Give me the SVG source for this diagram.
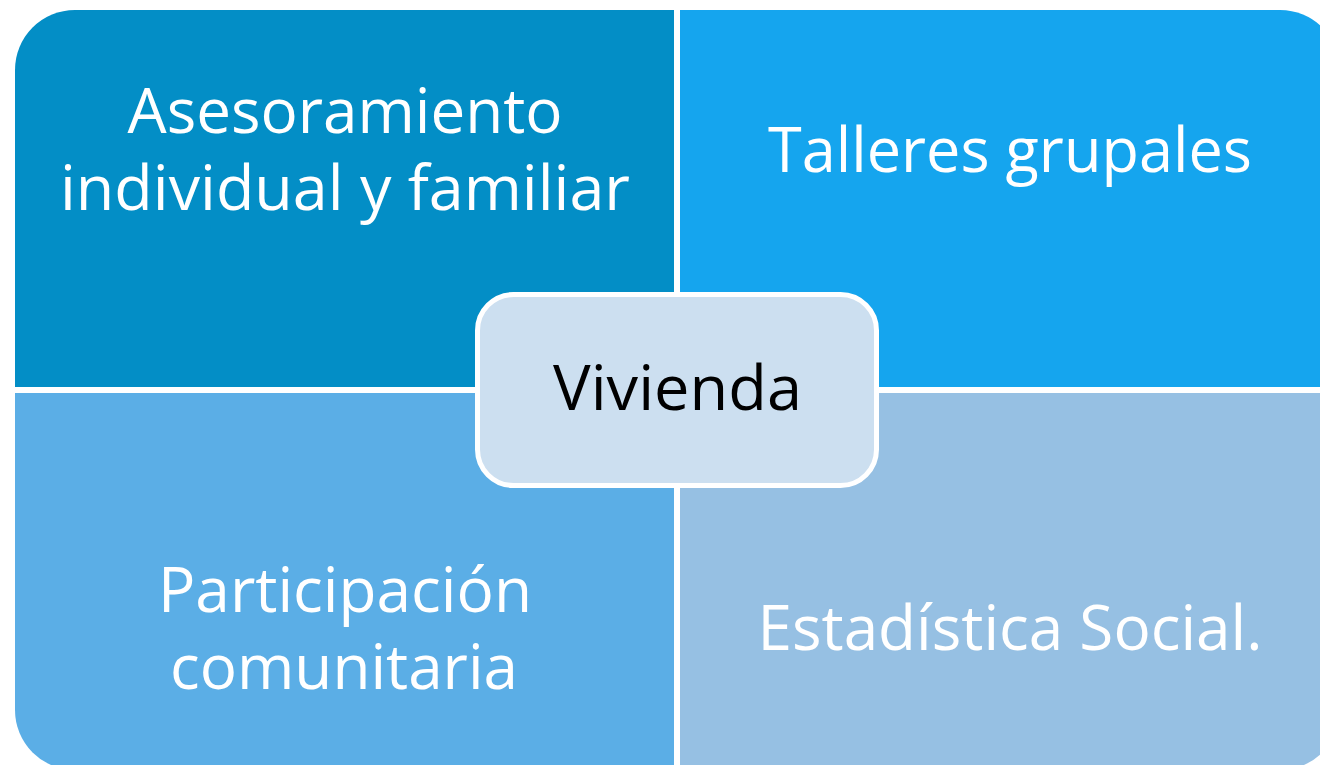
<svg xmlns="http://www.w3.org/2000/svg" width="1320" height="765" viewBox="0 0 1320 765">
<style>
.q text{font-family:"Open Sans","Noto Sans","Liberation Sans",sans-serif;font-size:63px;fill:#ffffff;text-anchor:middle}
.c text{font-family:"Open Sans","Noto Sans","Liberation Sans",sans-serif;font-size:63px;fill:#000000;text-anchor:middle}
</style>
<rect x="0" y="0" width="1320" height="765" fill="#ffffff"/>
<g id="asesoramiento" class="q">
<path d="M15,387 V70 A60,60 0 0 1 75,10 H674 V387 Z" fill="#038EC6"/>
<text x="345" y="133" textLength="435" lengthAdjust="spacingAndGlyphs">Asesoramiento</text>
<text x="345" y="210" textLength="570" lengthAdjust="spacingAndGlyphs">individual y familiar</text>
</g>
<g id="talleres" class="q">
<path d="M680,10 H1280 A60,60 0 0 1 1340,70 V387 H680 Z" fill="#15A5EE"/>
<text x="1010" y="172" textLength="484" lengthAdjust="spacingAndGlyphs">Talleres grupales</text>
</g>
<g id="participacion" class="q">
<path d="M15,393 H674 V770 H75 A60,60 0 0 1 15,710 Z" fill="#5BAEE6"/>
<text x="345" y="612" textLength="374" lengthAdjust="spacingAndGlyphs">Participación</text>
<text x="344" y="689" textLength="348" lengthAdjust="spacingAndGlyphs">comunitaria</text>
</g>
<g id="estadistica" class="q">
<path d="M680,393 H1340 V710 A60,60 0 0 1 1280,770 H680 Z" fill="#96C0E3"/>
<text x="1010" y="650" textLength="505" lengthAdjust="spacingAndGlyphs">Estadística Social.</text>
</g>
<g id="vivienda" class="c">
<rect x="477.5" y="294.5" width="399" height="191" rx="36" ry="36" fill="#CCDFF0" stroke="#ffffff" stroke-width="5"/>
<text x="677.5" y="410" textLength="249" lengthAdjust="spacingAndGlyphs">Vivienda</text>
</g>
<g id="connectors"/>
</svg>
